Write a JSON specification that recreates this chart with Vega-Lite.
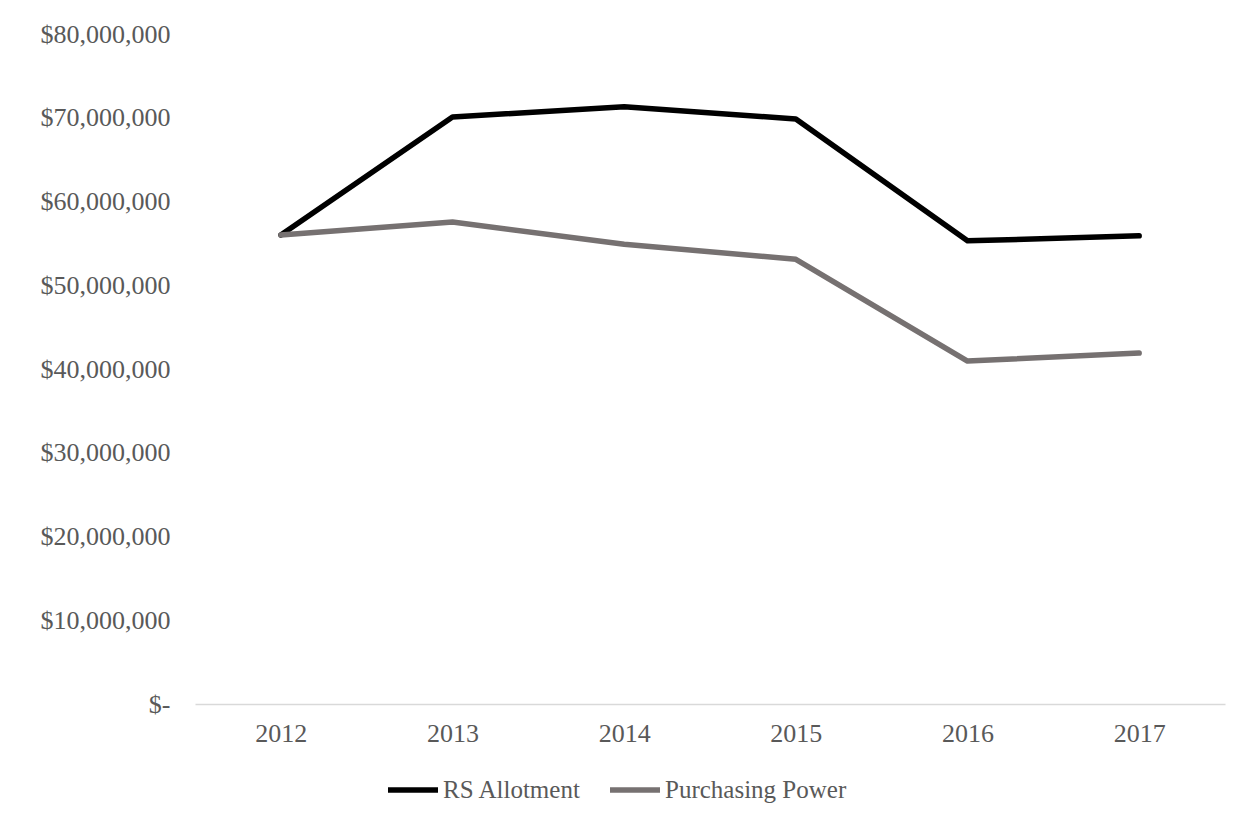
{
  "$schema": "https://vega.github.io/schema/vega-lite/v6.json",
  "autosize": "none",
  "width": 1030,
  "height": 670,
  "padding": {"left": 195, "top": 34, "right": 25, "bottom": 119},
  "background": "white",
  "config": {
    "view": {"stroke": null},
    "font": "Liberation Serif"
  },
  "data": {
    "values": [
      {"year": "2012", "series": "RS Allotment", "value": 56000000},
      {"year": "2013", "series": "RS Allotment", "value": 70100000},
      {"year": "2014", "series": "RS Allotment", "value": 71300000},
      {"year": "2015", "series": "RS Allotment", "value": 69850000},
      {"year": "2016", "series": "RS Allotment", "value": 55300000},
      {"year": "2017", "series": "RS Allotment", "value": 55900000},
      {"year": "2012", "series": "Purchasing Power", "value": 56000000},
      {"year": "2013", "series": "Purchasing Power", "value": 57550000},
      {"year": "2014", "series": "Purchasing Power", "value": 54900000},
      {"year": "2015", "series": "Purchasing Power", "value": 53100000},
      {"year": "2016", "series": "Purchasing Power", "value": 40950000},
      {"year": "2017", "series": "Purchasing Power", "value": 41900000}
    ]
  },
  "mark": {"type": "line", "strokeWidth": 5.5, "strokeCap": "round", "strokeJoin": "round"},
  "encoding": {
    "x": {
      "field": "year",
      "type": "ordinal",
      "scale": {"type": "point", "padding": 0.5},
      "axis": {
        "title": null,
        "labelAngle": 0,
        "ticks": false,
        "grid": false,
        "domainColor": "#d9d9d9",
        "domainWidth": 1.5,
        "labelFont": "Liberation Serif",
        "labelFontSize": 26,
        "labelColor": "#595959",
        "labelPadding": 16
      }
    },
    "y": {
      "field": "value",
      "type": "quantitative",
      "scale": {"domain": [0, 80000000], "nice": false},
      "axis": {
        "title": null,
        "values": [0, 10000000, 20000000, 30000000, 40000000, 50000000, 60000000, 70000000, 80000000],
        "labelExpr": "datum.value == 0 ? '$-      ' : '$' + format(datum.value, ',')",
        "ticks": false,
        "grid": false,
        "domain": false,
        "labelFont": "Liberation Serif",
        "labelFontSize": 26,
        "labelColor": "#595959",
        "labelPadding": 25
      }
    },
    "color": {
      "field": "series",
      "type": "nominal",
      "sort": ["RS Allotment", "Purchasing Power"],
      "scale": {"domain": ["RS Allotment", "Purchasing Power"], "range": ["#000000", "#767171"]},
      "legend": {
        "title": null,
        "orient": "none",
        "legendX": 190,
        "legendY": 728,
        "direction": "horizontal",
        "symbolType": "stroke",
        "symbolSize": 2500,
        "symbolStrokeWidth": 5.5,
        "labelFont": "Liberation Serif",
        "labelFontSize": 25,
        "labelLimit": 400,
        "labelColor": "#595959",
        "labelOffset": 2,
        "columnPadding": 17,
        "padding": 0
      }
    }
  }
}
